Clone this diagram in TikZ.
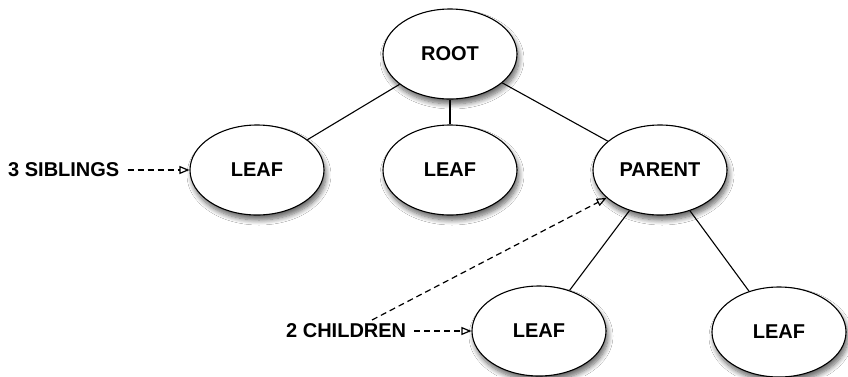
\documentclass[tikz,border=0pt]{standalone}
\usepackage{fontspec}
\setmainfont{Liberation Sans}
\usetikzlibrary{shapes.geometric,arrows.meta,shadows.blur}
\tikzset{
  treenode/.style={ellipse, draw=black, line width=1.1pt, fill=white,
    minimum width=134pt, minimum height=90pt, inner sep=0pt,
    font=\fontsize{20}{22}\selectfont\bfseries,
    blur shadow={shadow xshift=2pt, shadow yshift=-5pt, shadow blur steps=8, shadow blur radius=5pt, shadow opacity=60}},
  label/.style={inner sep=0pt, font=\fontsize{20}{22}\selectfont\bfseries},
  edge/.style={line width=1.1pt},
  pointer/.style={line width=1.2pt, dash pattern=on 6pt off 4pt, -{Triangle[open,length=10pt,width=8pt]}}
}
\begin{document}
\begin{tikzpicture}[x=1pt,y=-1pt]
\useasboundingbox[fill=white] (0,0) rectangle (848,376);
\node[treenode] (root) at (450,54) {ROOT};
\node[treenode] (leafa) at (257,170) {LEAF};
\node[treenode] (leafb) at (450,170) {LEAF};
\node[treenode] (parent) at (660,170) {PARENT};
\node[treenode] (leafc) at (539,331) {LEAF};
\node[treenode] (leafd) at (779,332) {LEAF};
\draw[edge] (root) -- (leafa);
\draw[edge] (root) -- (leafb);
\draw[edge] (root) -- (parent);
\draw[edge] (parent) -- (leafc);
\draw[edge] (parent) -- (leafd);
\node[label, anchor=west] (sib) at (8,170) {3 SIBLINGS};
\node[label, anchor=west] (chi) at (286,331) {2 CHILDREN};
\coordinate (chitop) at (372,320);
\draw[pointer] (sib.east) ++(8pt,0) coordinate (sibstart) -- (leafa.west);
\draw[pointer] (chi.east) ++(8pt,0) coordinate (chistart) -- (leafc.west);
\draw[pointer] (chitop) -- (parent);
\end{tikzpicture}
\end{document}
